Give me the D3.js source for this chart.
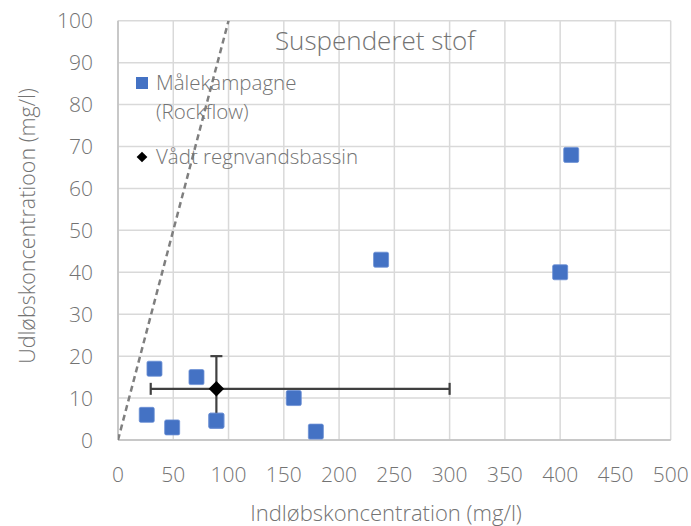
<!DOCTYPE html>
<html>
<head>
<meta charset="utf-8">
<script src="https://cdn.jsdelivr.net/npm/d3@7"></script>
<style>
  body { margin: 0; background: #fff; }
  text { font-family: "Open Sans", "Noto Sans", sans-serif; font-weight: 300; fill: #737373; }
</style>
</head>
<body>
<div id="chart"></div>
<script>
// Målekampagne (Rockflow)
const campX = [26, 33, 49, 71, 89, 159, 179, 238, 400, 410]
const campY = [6, 17, 3, 15, 4.6, 10, 2, 43, 40, 68]

// Vådt regnvandsbassin, with error bars
const basinX = [89]
const basinY = [12.2]
const basinXMin = [29.6], basinXMax = [300]
const basinYMin = [5], basinYMax = [20]

const xTicks = [0, 50, 100, 150, 200, 250, 300, 350, 400, 450, 500]
const yTicks = [0, 10, 20, 30, 40, 50, 60, 70, 80, 90, 100]

const width = 691, height = 526
const margin = { top: 20.7, right: 20.3, bottom: 86, left: 118 }

const svg = d3.select('#chart')
  .append('svg')
  .attr('width', width)
  .attr('height', height)

const xScale = d3.scaleLinear()
  .domain([0, 500])
  .range([margin.left, width - margin.right])

const yScale = d3.scaleLinear()
  .domain([0, 100])
  .range([height - margin.bottom, margin.top])

// grid
svg.append('g')
  .selectAll('line')
  .data(xTicks)
  .join('line')
  .attr('x1', d => xScale(d)).attr('x2', d => xScale(d))
  .attr('y1', yScale(0)).attr('y2', yScale(100))
  .attr('stroke', '#d9d9d9').attr('stroke-width', 1.5)

svg.append('g')
  .selectAll('line')
  .data(yTicks)
  .join('line')
  .attr('y1', d => yScale(d)).attr('y2', d => yScale(d))
  .attr('x1', xScale(0)).attr('x2', xScale(500))
  .attr('stroke', '#d9d9d9').attr('stroke-width', 1.5)

// axis lines
svg.append('line')
  .attr('x1', xScale(0)).attr('x2', xScale(500))
  .attr('y1', yScale(0)).attr('y2', yScale(0))
  .attr('stroke', '#bfbfbf').attr('stroke-width', 1.5)
svg.append('line')
  .attr('x1', xScale(0)).attr('x2', xScale(0))
  .attr('y1', yScale(0)).attr('y2', yScale(100))
  .attr('stroke', '#bfbfbf').attr('stroke-width', 1.5)

// tick labels
svg.append('g')
  .selectAll('text')
  .data(xTicks)
  .join('text')
  .attr('x', d => xScale(d))
  .attr('y', 482)
  .attr('text-anchor', 'middle')
  .attr('font-size', 21)
  .text(d => d)

svg.append('g')
  .selectAll('text')
  .data(yTicks)
  .join('text')
  .attr('x', 93)
  .attr('y', d => yScale(d) + 7.5)
  .attr('text-anchor', 'end')
  .attr('font-size', 21)
  .text(d => d)

// axis titles
svg.append('text')
  .attr('x', 386)
  .attr('y', 521)
  .attr('text-anchor', 'middle')
  .attr('font-size', 22)
  .text('Indløbskoncentration (mg/l)')

svg.append('text')
  .attr('transform', `translate(35, 226) rotate(-90)`)
  .attr('text-anchor', 'middle')
  .attr('font-size', 21.5)
  .text('Udløbskoncentratioon (mg/l)')

// 1:1 line
svg.append('clipPath').attr('id', 'plot')
  .append('rect')
  .attr('x', xScale(0)).attr('y', yScale(100))
  .attr('width', xScale(500) - xScale(0))
  .attr('height', yScale(0) - yScale(100))

svg.append('line')
  .attr('clip-path', 'url(#plot)')
  .attr('x1', xScale(0)).attr('y1', yScale(0))
  .attr('x2', xScale(100)).attr('y2', yScale(100))
  .attr('stroke', '#7f7f7f')
  .attr('stroke-width', 2.5)
  .attr('stroke-dasharray', '6,4')

// title
svg.append('text')
  .attr('x', 375)
  .attr('y', 50)
  .attr('text-anchor', 'middle')
  .attr('font-size', 26)
  .text('Suspenderet stof')

// campaign squares
svg.append('g')
  .selectAll('rect')
  .data(campX)
  .join('rect')
  .attr('x', (d, i) => xScale(d) - 7.5)
  .attr('y', (d, i) => yScale(campY[i]) - 7.5)
  .attr('width', 15).attr('height', 15)
  .attr('rx', 1.5)
  .attr('fill', '#4472c4')
  .attr('stroke', '#6b8fd4')
  .attr('stroke-width', 0.8)

// error bars
const eb = svg.append('g').attr('stroke', '#404040').attr('stroke-width', 2.2)
basinX.forEach((d, i) => {
  const cx = xScale(d), cy = yScale(basinY[i])
  eb.append('line').attr('x1', xScale(basinXMin[i])).attr('x2', xScale(basinXMax[i]))
    .attr('y1', cy).attr('y2', cy)
  eb.append('line').attr('y1', yScale(basinYMin[i])).attr('y2', yScale(basinYMax[i]))
    .attr('x1', cx).attr('x2', cx)
  eb.append('line').attr('x1', xScale(basinXMin[i])).attr('x2', xScale(basinXMin[i]))
    .attr('y1', cy - 6).attr('y2', cy + 6)
  eb.append('line').attr('x1', xScale(basinXMax[i])).attr('x2', xScale(basinXMax[i]))
    .attr('y1', cy - 6).attr('y2', cy + 6)
  eb.append('line').attr('x1', cx - 6).attr('x2', cx + 6)
    .attr('y1', yScale(basinYMax[i])).attr('y2', yScale(basinYMax[i]))
})

// campaign square drawn over the lower error bar (as in the original)
svg.append('g')
  .selectAll('rect')
  .data(campX.filter((d, i) => campY[i] < basinYMin[0] + 2 && Math.abs(d - basinX[0]) < 3))
  .join('rect')
  .attr('x', d => xScale(d) - 7.5)
  .attr('y', d => yScale(campY[campX.indexOf(d)]) - 7.5)
  .attr('width', 15).attr('height', 15)
  .attr('rx', 1.5)
  .attr('fill', '#4472c4')
  .attr('stroke', '#6b8fd4')
  .attr('stroke-width', 0.8)

// diamond
svg.append('g')
  .selectAll('path')
  .data(basinX)
  .join('path')
  .attr('transform', (d, i) => `translate(${xScale(d)},${yScale(basinY[i])}) rotate(45)`)
  .attr('d', 'M-5.5,-5.5H5.5V5.5H-5.5Z')
  .attr('fill', '#000')

// legend
svg.append('rect')
  .attr('x', 136).attr('y', 77)
  .attr('width', 12).attr('height', 12)
  .attr('fill', '#4472c4')
svg.append('text').attr('x', 156).attr('y', 90).attr('font-size', 20.5).text('Målekampagne')
svg.append('text').attr('x', 156).attr('y', 119).attr('font-size', 20.5).text('(Rockflow)')
svg.append('path')
  .attr('transform', 'translate(142,157) rotate(45)')
  .attr('d', 'M-3.8,-3.8H3.8V3.8H-3.8Z')
  .attr('fill', '#000')
svg.append('text').attr('x', 156).attr('y', 164).attr('font-size', 20.5).text('Vådt regnvandsbassin')
</script>
</body>
</html>
